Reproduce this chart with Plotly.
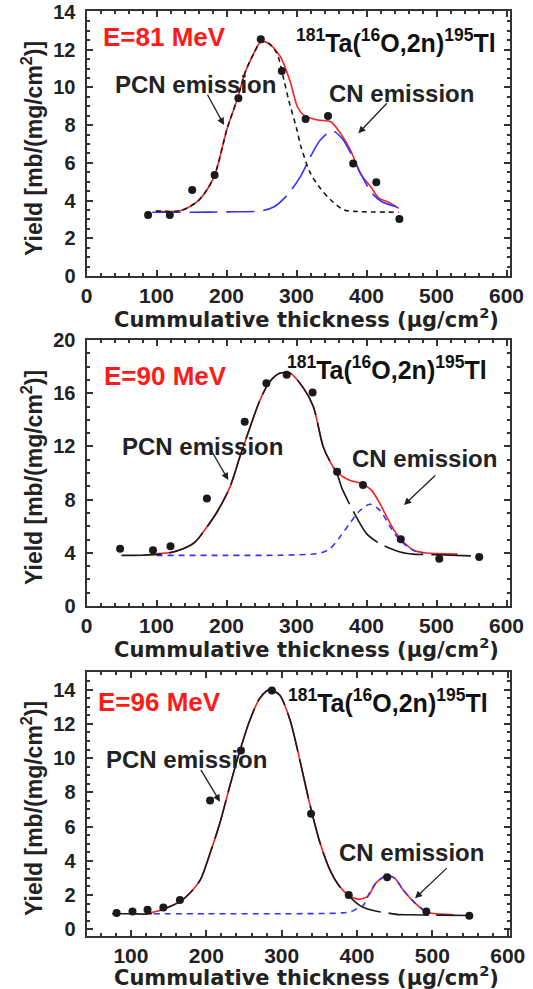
import plotly.graph_objects as go

W, H = 533, 989

# ---------------- Panel 1 : E = 81 MeV ----------------
p1_data_x = [88, 119, 151, 183, 217, 249, 279, 313, 345, 381, 414, 447]
p1_data_y = [3.23, 3.23, 4.56, 5.36, 9.42, 12.55, 10.87, 8.32, 8.48, 5.97, 4.97, 3.02]

p1_total_x = [99, 134, 158, 172, 184, 201, 215, 227, 239, 249, 260, 277, 291, 301, 310, 330, 349, 363, 377, 391, 406, 418, 430, 446]
p1_total_y = [3.45, 3.46, 3.94, 4.56, 5.44, 7.83, 9.33, 10.83, 11.8, 12.42, 12.34, 11.63, 10.3, 9.0, 8.54, 8.27, 8.18, 7.56, 6.68, 5.44, 4.73, 4.12, 3.94, 3.59]

p1_pcn_x = [99, 134, 158, 172, 184, 201, 215, 227, 239, 249, 260, 272, 282, 289, 301, 306, 320, 334, 349, 368, 387, 446]
p1_pcn_y = [3.45, 3.46, 3.94, 4.56, 5.44, 7.83, 9.33, 10.83, 11.8, 12.42, 12.34, 11.8, 10.4, 9.3, 7.7, 6.9, 5.44, 4.65, 4.03, 3.5, 3.42, 3.38]

p1_cn_x = [94, 150, 200, 251, 268, 287, 306, 320, 334, 351, 365, 380, 394, 408, 422, 446]
p1_cn_y = [3.38, 3.38, 3.4, 3.46, 3.67, 4.3, 5.3, 6.33, 7.21, 7.7, 7.3, 6.33, 5.27, 4.38, 3.94, 3.64]

# ---------------- Panel 2 : E = 90 MeV ----------------
p2_data_x = [48, 95, 120, 172, 226, 257, 286, 323, 358, 395, 449, 504, 561]
p2_data_y = [4.31, 4.19, 4.49, 8.08, 13.86, 16.75, 17.38, 16.05, 10.09, 9.09, 5.01, 3.56, 3.68]

p2_total_x = [100, 115, 138, 155, 172, 188, 205, 219, 234, 248, 262, 276, 291, 310, 324, 338, 348, 357, 367, 376, 395, 407, 419, 429, 441, 453, 467, 486, 500, 530]
p2_total_y = [3.95, 3.98, 4.31, 4.81, 5.94, 7.2, 8.96, 11.2, 13.5, 15.5, 16.88, 17.5, 17.5, 16.38, 15.0, 12.0, 10.85, 10.09, 9.7, 9.46, 9.16, 8.71, 7.71, 6.7, 5.57, 4.81, 4.19, 3.98, 3.94, 3.9]

p2_pcn_x = [50, 80, 115, 138, 155, 172, 188, 205, 219, 234, 248, 262, 276, 291, 310, 324, 338, 348, 357, 365, 388, 400, 419, 448, 467, 500, 562]
p2_pcn_y = [3.81, 3.82, 3.95, 4.31, 4.81, 5.94, 7.2, 8.96, 11.2, 13.5, 15.5, 16.88, 17.5, 17.5, 16.38, 15.0, 12.0, 10.85, 10.09, 8.84, 6.45, 5.44, 4.69, 4.06, 3.9, 3.85, 3.75]

p2_cn_x = [100, 200, 276, 334, 348, 362, 376, 391, 405, 419, 434, 448, 467, 481]
p2_cn_y = [3.81, 3.81, 3.82, 3.98, 4.31, 5.19, 6.2, 7.2, 7.65, 7.2, 5.94, 4.94, 4.19, 3.98]

# ---------------- Panel 3 : E = 96 MeV ----------------
p3_data_x = [81, 102, 122, 143, 165, 205, 246, 287, 339, 389, 440, 492, 549]
p3_data_y = [0.94, 1.03, 1.13, 1.26, 1.71, 7.52, 10.44, 13.95, 6.74, 2.0, 3.04, 1.03, 0.78]

p3_total_x = [120, 143, 165, 178, 192, 205, 218, 231, 245, 258, 271, 284, 297, 311, 324, 337, 351, 364, 377, 388, 396, 403, 414, 425, 439, 450, 461, 475, 488, 497, 528]
p3_total_y = [0.9, 1.17, 1.61, 2.1, 2.88, 4.44, 6.2, 8.34, 10.5, 12.24, 13.5, 14.0, 13.7, 12.24, 9.9, 7.37, 5.03, 3.47, 2.49, 2.0, 1.8, 1.75, 1.9, 2.69, 3.12, 2.98, 2.3, 1.61, 1.13, 0.94, 0.84]

p3_pcn_x = [75, 100, 126, 143, 165, 178, 192, 205, 218, 231, 245, 258, 271, 284, 297, 311, 324, 337, 351, 364, 377, 388, 396, 406, 420, 440, 455, 470, 500, 550]
p3_pcn_y = [0.9, 0.9, 0.9, 1.17, 1.61, 2.1, 2.88, 4.44, 6.2, 8.34, 10.5, 12.24, 13.5, 14.0, 13.7, 12.24, 9.9, 7.37, 5.03, 3.47, 2.49, 2.0, 1.65, 1.32, 1.1, 0.95, 0.85, 0.84, 0.82, 0.8]

p3_cn_x = [130, 200, 300, 380, 392, 400, 408, 414, 425, 439, 450, 461, 475, 488, 497]
p3_cn_y = [0.9, 0.9, 0.9, 0.95, 1.03, 1.2, 1.36, 1.9, 2.69, 3.12, 2.98, 2.3, 1.61, 1.13, 0.94]

energies = ["E=81 MeV", "E=90 MeV", "E=96 MeV"]
reaction = "<sup>181</sup>Ta(<sup>16</sup>O,2n)<sup>195</sup>Tl"
x_title = "Cummulative thickness (µg/cm<sup>2</sup>)"
y_title = "Yield [mb/(mg/cm<sup>2</sup>)]"

RED = "#ff1f1f"
BLUE = "#3333ff"
BLACK = "#1a1a1a"

panels = [
    dict(data=(p1_data_x, p1_data_y), total=(p1_total_x, p1_total_y), pcn=(p1_pcn_x, p1_pcn_y), cn=(p1_cn_x, p1_cn_y),
         pcn_dash="5px,4px", cn_dash="28px,9px"),
    dict(data=(p2_data_x, p2_data_y), total=(p2_total_x, p2_total_y), pcn=(p2_pcn_x, p2_pcn_y), cn=(p2_cn_x, p2_cn_y),
         pcn_dash="40px,8px", cn_dash="6px,5px"),
    dict(data=(p3_data_x, p3_data_y), total=(p3_total_x, p3_total_y), pcn=(p3_pcn_x, p3_pcn_y), cn=(p3_cn_x, p3_cn_y),
         pcn_dash="40px,8px", cn_dash="6px,5px"),
]

fig = go.Figure()
for i, p in enumerate(panels):
    xa = "x" if i == 0 else f"x{i+1}"
    ya = "y" if i == 0 else f"y{i+1}"
    fig.add_trace(go.Scatter(x=p["total"][0], y=p["total"][1], mode="lines", xaxis=xa, yaxis=ya,
                             line=dict(color=RED, width=1.6, shape="spline", smoothing=0.8), showlegend=False))
    fig.add_trace(go.Scatter(x=p["cn"][0], y=p["cn"][1], mode="lines", xaxis=xa, yaxis=ya,
                             line=dict(color=BLUE, width=1.6, dash=p["cn_dash"], shape="spline", smoothing=0.8), showlegend=False))
    fig.add_trace(go.Scatter(x=p["pcn"][0], y=p["pcn"][1], mode="lines", xaxis=xa, yaxis=ya,
                             line=dict(color=BLACK, width=1.6, dash=p["pcn_dash"], shape="spline", smoothing=0.8), showlegend=False))
    fig.add_trace(go.Scatter(x=p["data"][0], y=p["data"][1], mode="markers", xaxis=xa, yaxis=ya,
                             marker=dict(color=BLACK, size=8), showlegend=False))

def px(v):
    return v / W

def py(v):
    return 1 - v / H

x_dom = [px(86.5), px(510)]
y_doms = [[py(276), py(11)], [py(606), py(340)], [py(936), py(671.7)]]
x_ranges = [[0, 605], [0, 605], [41, 603]]
y_ranges = [[0, 14.05], [0, 20], [-0.4, 15.05]]
y_dticks = [2, 4, 2]
y_minor = [0.5, 1, 0.5]

tick_font_y = dict(family="Liberation Sans", size=20, color="#222", weight="bold")
tick_font_x = dict(family="Liberation Sans", size=21, color="#222", weight="bold")

for i in range(3):
    sx = "" if i == 0 else str(i + 1)
    fig.layout["xaxis" + sx] = dict(
        domain=x_dom, range=x_ranges[i], anchor="y" + sx, tickmode="array", automargin=False,
        tickvals=[v for v in [0, 100, 200, 300, 400, 500, 600] if x_ranges[i][0] <= v <= x_ranges[i][1] + 5],
        ticks="inside", ticklen=6, tickwidth=1.5, tickcolor="#333",
        minor=dict(ticks="inside", ticklen=3, dtick=20, tickcolor="#333"),
        showline=True, linewidth=2, linecolor="#333", mirror="allticks",
        showgrid=False, zeroline=False, tickfont=tick_font_x, ticklabelstandoff=0,
    )
    ymax = 14 if i != 1 else 20
    fig.layout["yaxis" + sx] = dict(
        domain=y_doms[i], range=y_ranges[i], anchor="x" + sx, tickmode="array", automargin=False,
        tickvals=list(range(0, ymax + 1, y_dticks[i])),
        ticks="inside", ticklen=6, tickwidth=1.5, tickcolor="#333",
        minor=dict(ticks="inside", ticklen=3, dtick=y_minor[i], tickcolor="#333"),
        showline=True, linewidth=2, linecolor="#333", mirror="allticks",
        showgrid=False, zeroline=False, tickfont=tick_font_y, ticklabelstandoff=5,
    )

ann = []
bold = "Liberation Sans"
# energy labels
for (cx, cy), t in zip([(164, 37), (165, 376), (159, 702)], energies):
    ann.append(dict(x=px(cx), y=py(cy), xref="paper", yref="paper", text=f"<b>{t}</b>", showarrow=False,
                    xanchor="center", yanchor="middle", font=dict(family=bold, size=26, color="#ff1a1a")))
# reaction labels
for cx, cy in [(396, 41), (387, 368), (388, 701)]:
    ann.append(dict(x=px(cx), y=py(cy), xref="paper", yref="paper", text=f"<b>{reaction}</b>", showarrow=False,
                    xanchor="center", yanchor="middle", font=dict(family=bold, size=25, color="#111")))
# PCN / CN labels
for cx, cy in [(195, 84), (202, 446), (186, 759)]:
    ann.append(dict(x=px(cx), y=py(cy), xref="paper", yref="paper", text="<b>PCN emission</b>", showarrow=False,
                    xanchor="center", yanchor="middle", font=dict(family=bold, size=24, color="#222")))
for cx, cy in [(401, 94), (424, 458), (411, 852)]:
    ann.append(dict(x=px(cx), y=py(cy), xref="paper", yref="paper", text="<b>CN emission</b>", showarrow=False,
                    xanchor="center", yanchor="middle", font=dict(family=bold, size=24, color="#222")))
# arrows: (tail, head)
arrows = [((206.7, 93.3), (224, 125)), ((388.3, 101.7), (358.3, 133.3)),
          ((210, 448.3), (228.3, 480)), ((436.7, 474), (404, 505)),
          ((200, 768.3), (220, 801.7)), ((448.3, 866.7), (415, 898.3))]
for (tx, ty), (hx, hy) in arrows:
    ann.append(dict(x=px(hx), y=py(hy), xref="paper", yref="paper", text="", showarrow=True,
                    ax=tx - hx, ay=ty - hy, arrowhead=2, arrowsize=1.1, arrowwidth=1.3, arrowcolor="#222"))
# axis titles
for cy in [318, 648, 976]:
    ann.append(dict(x=px(306), y=py(cy), xref="paper", yref="paper", text=f"<b>{x_title}</b>", showarrow=False,
                    xanchor="center", yanchor="middle", font=dict(family="DejaVu Sans", size=21, color="#222")))
for cy in [149, 478, 809]:
    ann.append(dict(x=px(32), y=py(cy), xref="paper", yref="paper", text=f"<b>{y_title}</b>", showarrow=False,
                    xanchor="center", yanchor="middle", textangle=-90, font=dict(family=bold, size=23, color="#222")))

fig.update_layout(width=W, height=H, margin=dict(l=0, r=0, t=0, b=0, pad=0, autoexpand=False),
                  paper_bgcolor="white", plot_bgcolor="white", annotations=ann, showlegend=False)

fig.write_html("out.html", config={"displayModeBar": False},
               post_script="document.body.style.margin='0px';document.body.style.overflow='hidden';")
